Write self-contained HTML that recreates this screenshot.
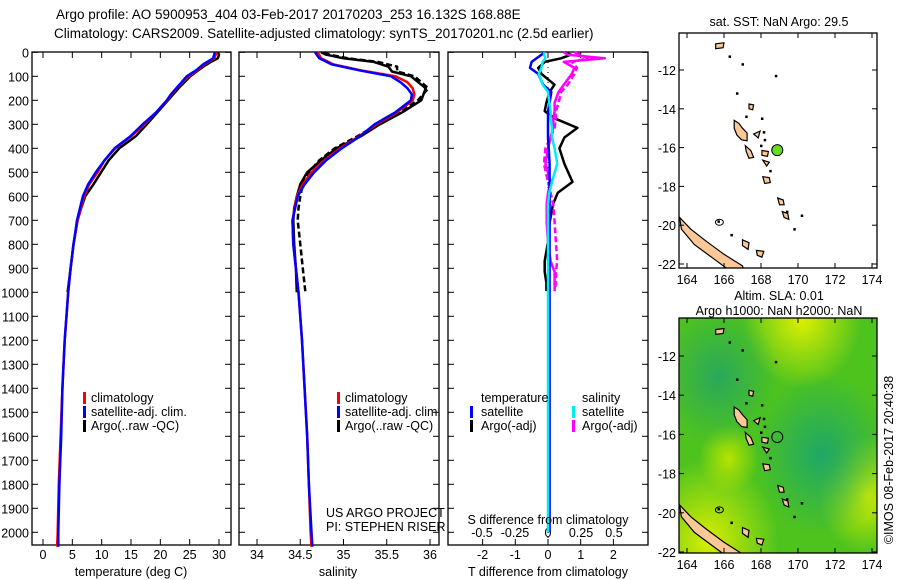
<!DOCTYPE html>
<html><head><meta charset="utf-8">
<style>
html,body{margin:0;padding:0;background:#fff;width:900px;height:580px;overflow:hidden}
svg{display:block;font-family:"Liberation Sans",sans-serif;font-size:12.5px}
</style></head>
<body>
<svg id="fig" width="900" height="580" viewBox="0 0 900 580">
<defs>
<radialGradient id="g1" cx="0.72" cy="0.58" r="0.35"><stop offset="0" stop-color="#1fa866"/><stop offset="1" stop-color="#1fa866" stop-opacity="0"/></radialGradient>
<radialGradient id="g2" cx="0.2" cy="0.25" r="0.3"><stop offset="0" stop-color="#2aa85a"/><stop offset="1" stop-color="#2aa85a" stop-opacity="0"/></radialGradient>
<radialGradient id="g3" cx="0.62" cy="0.0" r="0.3"><stop offset="0" stop-color="#e0f000"/><stop offset="1" stop-color="#e0f000" stop-opacity="0"/></radialGradient>
<radialGradient id="g4" cx="0.15" cy="0.95" r="0.35"><stop offset="0" stop-color="#d8ee00"/><stop offset="1" stop-color="#d8ee00" stop-opacity="0"/></radialGradient>
<radialGradient id="g5" cx="0.95" cy="0.75" r="0.25"><stop offset="0" stop-color="#d4ee00"/><stop offset="1" stop-color="#d4ee00" stop-opacity="0"/></radialGradient>
<radialGradient id="g6" cx="0.25" cy="0.6" r="0.15"><stop offset="0" stop-color="#b8e400"/><stop offset="1" stop-color="#b8e400" stop-opacity="0"/></radialGradient>
<clipPath id="clipTop"><rect x="679" y="33" width="198" height="235"/></clipPath>
<clipPath id="clipBot"><rect x="679" y="318" width="198" height="235"/></clipPath>
</defs>
<text x="56" y="19" font-size="13.5">Argo profile: AO 5900953_404 03-Feb-2017 20170203_253 16.132S 168.88E</text>
<text x="54" y="38" font-size="13.5">Climatology: CARS2009. Satellite-adjusted climatology: synTS_20170201.nc (2.5d earlier)</text>
<g id="plots"></g>
</svg>
<script>
// ---------- data ----------
const depthClim = [0,25,50,75,100,125,150,175,200,250,300,350,400,450,500,550,600,700,800,900,1000,1200,1400,1600,1800,2000,2060];
const tempClim  = [29.6,29.2,27.5,26.3,24.8,23.8,22.8,21.9,21.2,19.3,17.3,15.0,12.3,10.5,9.3,7.9,7.0,5.9,5.2,4.7,4.3,3.7,3.3,3.0,2.7,2.5,2.4];
const tempSat   = [29.3,29.0,27.3,26.1,24.5,23.6,22.7,21.8,21.1,19.3,17.0,14.9,12.2,10.5,9.0,7.7,6.8,5.8,5.2,4.7,4.3,3.7,3.3,3.1,2.8,2.6,2.6];
const depthArgo = [0,10,25,40,60,80,100,150,200,250,300,350,400,450,500,550,600,650,700,800,900,1000];
const tempArgo  = [29.8,30.0,29.8,28.6,27.3,26.2,25.1,23.1,21.3,19.5,17.7,15.8,13.0,11.2,9.9,8.6,7.2,6.5,5.9,5.2,4.7,4.2];
const salClim   = [34.70,34.74,34.88,35.20,35.60,35.74,35.80,35.82,35.80,35.62,35.38,35.18,34.96,34.78,34.63,34.53,34.46,34.41,34.42,34.45,34.48,34.52,34.55,34.58,34.60,34.62,34.63];
const salSat    = [34.67,34.72,34.86,35.18,35.55,35.66,35.74,35.79,35.78,35.60,35.36,35.19,34.98,34.80,34.66,34.55,34.47,34.41,34.42,34.45,34.48,34.52,34.55,34.58,34.60,34.63,34.64];
const salArgo   = [34.74,34.80,35.0,35.35,35.52,35.56,35.78,35.95,35.90,35.68,35.42,35.20,34.92,34.74,34.58,34.50,34.46,34.43,34.42,34.43,34.45,34.46];
const salArgoB  = [34.78,34.84,35.05,35.40,35.62,35.62,35.82,35.98,35.86,35.64,35.40,35.16,34.90,34.72,34.60,34.53,34.50,34.48,34.47,34.50,34.53,34.56];
const depthDiff = [0,10,25,40,65,90,135,165,210,245,275,315,355,400,465,540,585,635,710,790,870,915,960,995];
const tDiffArgo = [0.5,0.7,0.4,-0.1,-0.3,-0.2,0.2,0.05,-0.05,-0.1,0.2,0.9,0.5,0.35,0.5,0.75,0.3,0.15,0.05,0.0,-0.1,-0.1,-0.05,-0.05];
const tDiffSat  = [-0.1,-0.2,-0.35,-0.5,-0.55,-0.3,-0.15,0.1,0.05,0.0,0.0,0.0,0.0,0.02,0.05,0.05,0.05,0.05,0.05,0.05,0.05,0.05,0.05,0.05];
const sDiffSat  = [-0.03,-0.03,-0.02,-0.04,-0.05,-0.07,-0.04,0.0,0.01,0.02,0.02,0.03,0.03,0.05,0.07,0.03,0.01,0.0,0.0,0.0,0.0,0.0,0.0,0.0];
const sDiffArgo = [0.12,0.15,0.43,0.12,0.2,0.18,0.12,0.08,0.05,0.05,0.04,0.04,0.02,0.0,-0.02,0.02,0.0,-0.01,-0.01,0.0,0.02,0.05,0.05,0.05];
const sDiffArgoB= [0.20,0.25,0.30,0.18,0.22,0.20,0.15,0.10,0.08,0.06,0.06,0.05,0.02,-0.02,-0.03,0.0,0.02,0.04,0.05,0.06,0.07,0.06,0.06,0.05];
const depthTicks = [0,100,200,300,400,500,600,700,800,900,1000,1100,1200,1300,1400,1500,1600,1700,1800,1900,2000];
const tempTicks = [0,5,10,15,20,25,30];
const salTicks = [34,34.5,35,35.5,36];
const salTickLabels = ["34","34.5","35","35.5","36"];
const tdTicks = [-2,-1,0,1,2];
const sdTicks = [-0.5,-0.25,0,0.25,0.5];
const sdTickLabels = ["-0.5","-0.25","0","0.25","0.5"];
const lonTicks = [164,166,168,170,172,174];
const latTicks = [-12,-14,-16,-18,-20,-22];
const argoLon = 168.88, argoLat = -16.132;
const islands = [
 [[166.55,-14.6],[166.8,-14.75],[167.0,-15.0],[167.25,-15.25],[167.25,-15.65],[166.95,-15.6],[166.7,-15.35],[166.55,-15.0]],
 [[167.15,-15.9],[167.45,-16.15],[167.6,-16.5],[167.35,-16.55],[167.2,-16.2]],
 [[168.1,-17.5],[168.45,-17.55],[168.5,-17.8],[168.2,-17.85]],
 [[168.9,-18.6],[169.2,-18.7],[169.25,-18.95],[169.0,-18.95]],
 [[169.15,-19.3],[169.45,-19.4],[169.5,-19.7],[169.25,-19.6]],
 [[167.6,-15.3],[167.95,-15.15],[167.85,-15.5]],
 [[168.05,-16.15],[168.4,-16.2],[168.35,-16.45],[168.05,-16.4]],
 [[168.1,-16.65],[168.45,-16.75],[168.3,-16.95]],
 [[165.55,-10.65],[166.0,-10.6],[165.95,-10.85],[165.55,-10.9]],
 [[167.35,-13.75],[167.6,-13.8],[167.55,-14.05],[167.35,-14.0]],
 [[167.75,-21.3],[168.15,-21.35],[168.05,-21.65],[167.8,-21.55]],
 [[167.0,-20.75],[167.35,-20.9],[167.3,-21.25],[167.0,-21.05]],
 [[163.6,-19.6],[164.2,-20.2],[165.0,-20.8],[166.0,-21.5],[167.0,-22.1],[167.1,-22.4],[166.4,-22.4],[165.4,-21.7],[164.4,-21.0],[163.7,-20.2]]
];
const smallDots = [[166.3,-11.3],[167.0,-11.7],[168.8,-12.3],[166.7,-13.2],[167.2,-14.4],[168.05,-14.5],[168.15,-15.2],[168.2,-15.6],[168.0,-15.9],[168.5,-17.2],[170.2,-19.5],[169.8,-20.2],[166.4,-20.5],[165.7,-19.8],[169.4,-19.3]];

// ---------- helpers ----------
const NS = "http://www.w3.org/2000/svg";
const root = document.getElementById('plots');
function mk(tag, attrs, parent){ const e=document.createElementNS(NS,tag); for(const k in attrs) e.setAttribute(k,attrs[k]); (parent||root).appendChild(e); return e; }
const Y0=52.3, Ypx=0.24;
function yD(d){ return Y0 + d*Ypx; }
const TOP=52, BOT=545;

function frame(x1,x2,name){
  const r=mk('rect',{x:x1,y:TOP,width:x2-x1,height:BOT-TOP,fill:'none',stroke:'#000','stroke-width':1.3});
  
  
}
function depthTickMarks(x1,x2,labels){
  depthTicks.forEach(d=>{
    const y=yD(d);
    mk('line',{x1:x1,x2:x1+6,y1:y,y2:y,stroke:'#000'});
    mk('line',{x1:x2-6,x2:x2,y1:y,y2:y,stroke:'#000'});
    if(labels){
      const t=mk('text',{x:x1-3,y:y+5,'text-anchor':'end'}); t.textContent=d;
      
      
    }
  });
}
function xTicks(vals,labels,fx,yb,ylab,name){
  vals.forEach((v,i)=>{
    const x=fx(v);
    mk('line',{x1:x,x2:x,y1:yb,y2:yb-6,stroke:'#000'});
    mk('line',{x1:x,x2:x,y1:TOP,y2:TOP+6,stroke:'#000'});
    const t=mk('text',{x:x,y:ylab,'text-anchor':'middle'}); t.textContent=labels[i];
    
    
  });
}
function line(xs,ds,fx,color,w,name,dash){
  const pts=xs.map((v,i)=>fx(v).toFixed(1)+','+yD(ds[i]).toFixed(1)).join(' ');
  const p=mk('polyline',{points:pts,fill:'none',stroke:color,'stroke-width':w,'stroke-linejoin':'round'});
  if(dash) p.setAttribute('stroke-dasharray',dash);
  
  
}
function txt(x,y,s,name,anchor){
  const t=mk('text',{x:x,y:y,'text-anchor':anchor||'start'}); t.textContent=s;
  
  
  return t;
}
function legendBar(x,y,color){
  const r=mk('rect',{x:x,y:y-10,width:3,height:12,fill:color});
  
  
}

// ---------- panel 1: temperature ----------
const fT=v=>43+v*(219-43)/30;
frame(32,231,'temperature-axes');
depthTickMarks(32,231,true);
xTicks(tempTicks,tempTicks.map(String),fT,BOT,559,'temperature-tick-label');
line(tempArgo,depthArgo,fT,'#000',2.5,'temp-argo-line');
line(tempClim,depthClim,fT,'#f00',2.5,'temp-clim-line');
line(tempSat,depthClim,fT,'#00f',2.5,'temp-sat-line');
txt(131,576,'temperature (deg C)','temperature-axis-title','middle');
legendBar(83,402,'#f00'); txt(91,402,'climatology','legend-climatology');
legendBar(83,416,'#00f'); txt(91,416,'satellite-adj. clim.','legend-satellite');
legendBar(83,430,'#000'); txt(91,430,'Argo(..raw -QC)','legend-argo');

// ---------- panel 2: salinity ----------
const fS=v=>257+(v-34)*(430-257)/2;
frame(239,439,'salinity-axes');
depthTickMarks(239,439,false);
xTicks(salTicks,salTickLabels,fS,BOT,559,'salinity-tick-label');
line(salArgo,depthArgo,fS,'#000',2.5,'sal-argo-line');
line(salArgoB,depthArgo,fS,'#000',2.5,'sal-argo-dashed-line','6,3');
line(salClim,depthClim,fS,'#f00',2.5,'sal-clim-line');
line(salSat,depthClim,fS,'#00f',2.5,'sal-sat-line');
txt(338,576,'salinity','salinity-axis-title','middle');
legendBar(337,402,'#f00'); txt(345,402,'climatology','legend-climatology');
legendBar(337,416,'#00f'); txt(345,416,'satellite-adj. clim.','legend-satellite');
legendBar(337,430,'#000'); txt(345,430,'Argo(..raw -QC)','legend-argo');
txt(326,517,'US ARGO PROJECT','credit-project');
txt(326,531,'PI: STEPHEN RISER','credit-pi');

// ---------- panel 3: differences ----------
const fTD=v=>548+v*32.7;
const fSD=v=>548+v*132;
frame(448,648,'difference-axes');
depthTickMarks(448,648,false);
xTicks(tdTicks,tdTicks.map(String),fTD,BOT,559,'tdiff-tick-label');
sdTicks.forEach((v,i)=>{ txt(fSD(v),537,sdTickLabels[i],'sdiff-tick-label','middle'); });
mk('line',{x1:548,x2:548,y1:TOP,y2:BOT,stroke:'#000','stroke-dasharray':'1,4'});
line(tDiffArgo,depthDiff,fTD,'#000',2.5,'tdiff-argo-line');
line(sDiffArgo,depthDiff,fSD,'#f0f',2.5,'sdiff-argo-line');
line(sDiffArgoB,depthDiff,fSD,'#f0f',2.5,'sdiff-argo-dashed-line','6,3');
line(tDiffSat.concat([0.05,0.05]),depthDiff.concat([1500,2000]),fTD,'#00f',2.5,'tdiff-sat-line');
line(sDiffSat.concat([0,0]),depthDiff.concat([1500,2000]),fSD,'#0ee',2.5,'sdiff-sat-line');
txt(481,402,'temperature','legend-temperature-heading');
legendBar(470,416,'#00f'); txt(481,416,'satellite','legend-tsat');
legendBar(470,430,'#000'); txt(481,430,'Argo(-adj)','legend-targo');
txt(582,402,'salinity','legend-salinity-heading');
legendBar(572,416,'#0ee'); txt(582,416,'satellite','legend-ssat');
legendBar(572,430,'#f0f'); txt(582,430,'Argo(-adj)','legend-sargo');
txt(548,524,'S difference from climatology','sdiff-axis-title','middle');
txt(548,576,'T difference from climatology','tdiff-axis-title','middle');

// ---------- maps ----------
function drawMap(top,bot,lat12y,lat22y,clip,withBg,name){
  const fx=lon=>687+(lon-164)*18.5;
  const fy=lat=>lat12y+(lat+12)*(lat22y-lat12y)/(-10);
  const g=mk('g',{'clip-path':'url(#'+clip+')'});
  
  
  if(withBg){
    mk('rect',{x:679,y:top,width:198,height:bot-top,fill:'#4ec31e'},g);
    ['g3','g4','g5','g6','g1','g2'].forEach(id=>mk('rect',{x:679,y:top,width:198,height:bot-top,fill:'url(#'+id+')'},g));
  }
  islands.forEach(poly=>{
    const p=mk('polygon',{points:poly.map(q=>fx(q[0]).toFixed(1)+','+fy(q[1]).toFixed(1)).join(' '),fill:'#fcc896',stroke:'#000','stroke-width':1.2},g);
    
    
  });
  smallDots.forEach(q=>mk('rect',{x:fx(q[0])-1,y:fy(q[1])-1,width:2.5,height:2.5,fill:'#000'},g));
  mk('ellipse',{cx:fx(165.75),cy:fy(-19.85),rx:4,ry:3,fill:'none',stroke:'#000'},g);
  const c=mk('circle',{cx:fx(argoLon),cy:fy(argoLat),r:5.5,fill:withBg?'none':'#66dd22',stroke:'#000','stroke-width':1},g);
  
  
  const f=mk('rect',{x:679,y:top,width:198,height:bot-top,fill:'none',stroke:'#000','stroke-width':1.3});
  
  
  lonTicks.forEach(l=>{
    const x=fx(l);
    mk('line',{x1:x,x2:x,y1:bot,y2:bot-5,stroke:'#000'});
    mk('line',{x1:x,x2:x,y1:top,y2:top+5,stroke:'#000'});
    txt(x,bot+16,String(l),'longitude-tick-label','middle');
  });
  latTicks.forEach(l=>{
    const y=fy(l);
    mk('line',{x1:679,x2:684,y1:y,y2:y,stroke:'#000'});
    mk('line',{x1:872,x2:877,y1:y,y2:y,stroke:'#000'});
    txt(676,y+5,String(l),'latitude-tick-label','end');
  });
}
drawMap(33,268,70,264,'clipTop',false,'sst-map');
drawMap(318,553,356,552,'clipBot',true,'sla-map');
txt(779,26,'sat. SST: NaN Argo: 29.5','sst-map-title','middle');
txt(779,300,'Altim. SLA: 0.01','sla-map-title','middle');
txt(779,315,'Argo h1000: NaN h2000: NaN','sla-map-subtitle','middle');
const cr=txt(0,0,'©IMOS 08-Feb-2017 20:40:38','timestamp-credit','middle');
cr.setAttribute('transform','translate(893,460) rotate(-90)');
</script>
</body></html>
